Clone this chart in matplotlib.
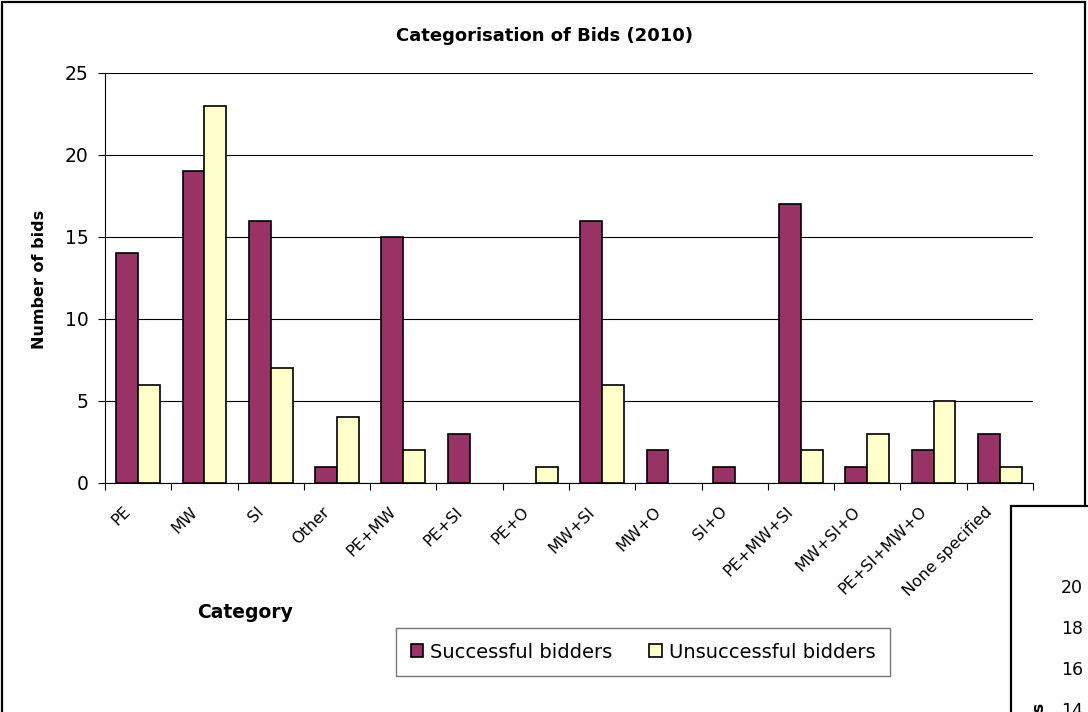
import numpy as np
import matplotlib
matplotlib.use('Agg')
import matplotlib.pyplot as plt
from matplotlib.patches import Rectangle

plt.rcParams['font.family'] = ['DejaVu Sans']

categories = ['PE', 'MW', 'SI', 'Other', 'PE+MW', 'PE+SI', 'PE+O', 'MW+SI',
              'MW+O', 'SI+O', 'PE+MW+SI', 'MW+SI+O', 'PE+SI+MW+O',
              'None specified']
successful = [14, 19, 16, 1, 15, 3, 0, 16, 2, 1, 17, 1, 2, 3]
unsuccessful = [6, 23, 7, 4, 2, 0, 1, 6, 0, 0, 2, 3, 5, 1]
y_ticks = [0, 5, 10, 15, 20, 25]
side_ticks = ['20', '18', '16', '14']

W, H = 1088, 712
fig = plt.figure(figsize=(W / 100, H / 100), dpi=100)

def fx(px):
    return px / W

def fy(py):
    return 1 - py / H

# chart frame
fig.patches.append(Rectangle((fx(2), fy(760)), fx(1085) - fx(2), fy(2) - fy(760),
                             transform=fig.transFigure, fill=False,
                             edgecolor='black', lw=1.6, zorder=0))

ax = fig.add_axes([fx(105), fy(483), fx(1033) - fx(105), fy(73) - fy(483)])
x = np.arange(len(categories))
bw = 0.33
ax.bar(x - bw / 2, successful, bw, color='#993366', edgecolor='black',
       lw=[1.2 if v else 0 for v in successful],
       label='Successful bidders', zorder=3)
ax.bar(x + bw / 2, unsuccessful, bw, color='#FFFFCC', edgecolor='black',
       lw=[1.2 if v else 0 for v in unsuccessful],
       label='Unsuccessful bidders', zorder=3)

ax.set_xlim(-0.5, len(categories) - 0.5)
ax.set_ylim(0, 25)
ax.set_yticks(y_ticks)
ax.tick_params(axis='y', labelsize=13.5, length=5, width=0.8, direction='out',
               pad=7)
ax.yaxis.grid(True, color='black', lw=0.8)
ax.set_axisbelow(True)
for s in ['top', 'right']:
    ax.spines[s].set_visible(False)
ax.spines['left'].set_linewidth(0.8)
ax.spines['bottom'].set_linewidth(0.8)

# category boundary ticks with rotated labels
ax.set_xticks(np.arange(len(categories) + 1) - 0.5)
ax.set_xticklabels([])
ax.tick_params(axis='x', length=5, width=0.8, direction='out')
for i, lab in enumerate(categories):
    ax.annotate(lab, xy=(i, 0), xycoords=('data', 'axes fraction'),
                xytext=(-15, -21), textcoords='offset pixels',
                rotation=45, ha='right', va='top', rotation_mode='anchor',
                fontsize=11.5)

fig.text(fx(40), fy(279), 'Number of bids', rotation=90, ha='center',
         va='center', fontsize=11.5, fontweight='bold')
fig.text(fx(544), fy(36), 'Categorisation of Bids (2010)', ha='center',
         va='center', fontsize=13, fontweight='bold')
fig.text(fx(245), fy(612), 'Category', ha='center', va='center',
         fontsize=13.5, fontweight='bold')

leg = fig.legend(loc='center', bbox_to_anchor=(fx(643), fy(652)), ncol=2,
                 fontsize=14, frameon=True, fancybox=False, edgecolor='#555555',
                 handlelength=0.65, handleheight=0.65, handletextpad=0.35,
                 columnspacing=1.9, borderpad=0.75)
leg.get_frame().set_linewidth(1.0)

# neighbouring chart overlapping the corner
fig.patches.append(Rectangle((fx(1011), fy(760)), fx(1100) - fx(1011),
                             fy(506) - fy(760), transform=fig.transFigure,
                             facecolor='white', edgecolor='black', lw=1.6,
                             zorder=5))
for lab, py in zip(side_ticks, [588, 629, 670, 711]):
    fig.text(fx(1083), fy(py), lab, ha='right', va='center', fontsize=12.5,
             zorder=6)
fig.text(fx(1040), fy(703), 'Number of bids', rotation=90, ha='center',
         va='top', fontsize=11.5, fontweight='bold', zorder=6)

fig.savefig('out.png', dpi=100)
